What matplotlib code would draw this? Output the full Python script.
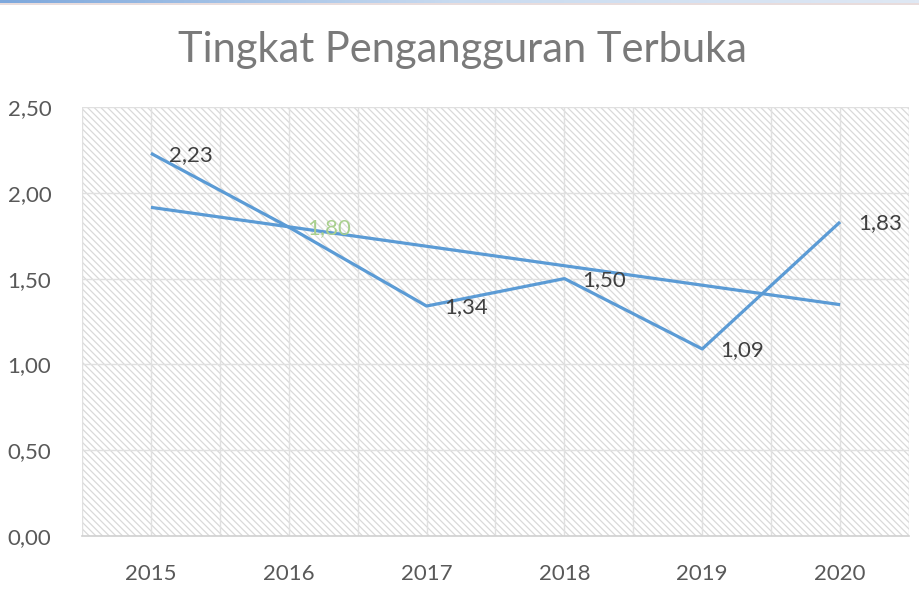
import numpy as np
import matplotlib
matplotlib.use("Agg")
import matplotlib.pyplot as plt
from matplotlib.colors import LinearSegmentedColormap

# data
years = ["2015", "2016", "2017", "2018", "2019", "2020"]
rates = [2.23, 1.80, 1.34, 1.50, 1.09, 1.83]
labels = ["2,23", "1,80", "1,34", "1,50", "1,09", "1,83"]
yticks = [0.0, 0.5, 1.0, 1.5, 2.0, 2.5]
ytick_labels = ["0,00", "0,50", "1,00", "1,50", "2,00", "2,50"]

plt.rcParams['font.family'] = ['Lato', 'DejaVu Sans']
plt.rcParams['hatch.linewidth'] = 0.9
plt.rcParams['hatch.color'] = '#d9d9d9'

blue = '#5b9bd5'
grey = '#595959'

fig = plt.figure(figsize=(9.2, 5.95), dpi=100)

# thin gradient strip on top
band = fig.add_axes([0, 1 - 3/595, 1, 3/595])
grad = np.linspace(0, 1, 256).reshape(1, -1)
cm = LinearSegmentedColormap.from_list("b", ['#7ea8dc', '#c9dbf0', '#dfe8f4'])
band.imshow(grad, aspect='auto', cmap=cm)
band.axis('off')
strip = fig.add_axes([0, 1 - 4.5/595, 1, 1.5/595])
strip.set_facecolor('#e8dcdc')
strip.set_xticks([]); strip.set_yticks([])
for s in strip.spines.values():
    s.set_visible(False)

ax = fig.add_axes([82/920, 1 - 536/595, 827/920, 429/595])
x = np.arange(len(years))

# hatched plot area
ax.add_patch(plt.Rectangle((0, 0), 1, 1, transform=ax.transAxes,
                           facecolor='white', edgecolor='#d9d9d9',
                           hatch='\\\\\\\\\\', linewidth=0, zorder=0))

ax.set_xlim(-0.5, 5.5)
ax.set_ylim(0, 2.5)

for gx in np.arange(-0.5, 5.51, 0.5):
    ax.axvline(gx, color='#e0e0e0', lw=1, zorder=1)
for gy in yticks[1:]:
    ax.axhline(gy, color='#e0e0e0', lw=1, zorder=1)

ax.plot(x, rates, color=blue, lw=2.3, zorder=3, solid_capstyle='butt')

# linear trend
k, b = np.polyfit(x, rates, 1)
ax.plot(x, k * x + b, color=blue, lw=2.3, zorder=3, solid_capstyle='butt')

for i in range(len(years)):
    c = '#a9d08e' if i == 1 else '#404040'
    ax.annotate(labels[i], (x[i], rates[i]), xytext=(13, -1),
                textcoords='offset points', ha='left', va='center',
                fontsize=16, color=c, zorder=4)

ax.set_xticks(x)
ax.set_xticklabels(years)
ax.set_yticks(yticks)
ax.set_yticklabels(ytick_labels)
ax.tick_params(length=0, labelsize=16, labelcolor=grey)
ax.tick_params(axis='x', pad=20)
ax.tick_params(axis='y', pad=22)

for s in ['top', 'right', 'left']:
    ax.spines[s].set_visible(False)
ax.spines['bottom'].set_color('#d0d0d0')
ax.spines['bottom'].set_linewidth(1.2)

fig.text(0.503, 1 - 50/595, "Tingkat Pengangguran Terbuka",
         ha='center', va='center', fontsize=30, color='#7a7a7a')

fig.savefig("out.png", dpi=100)
